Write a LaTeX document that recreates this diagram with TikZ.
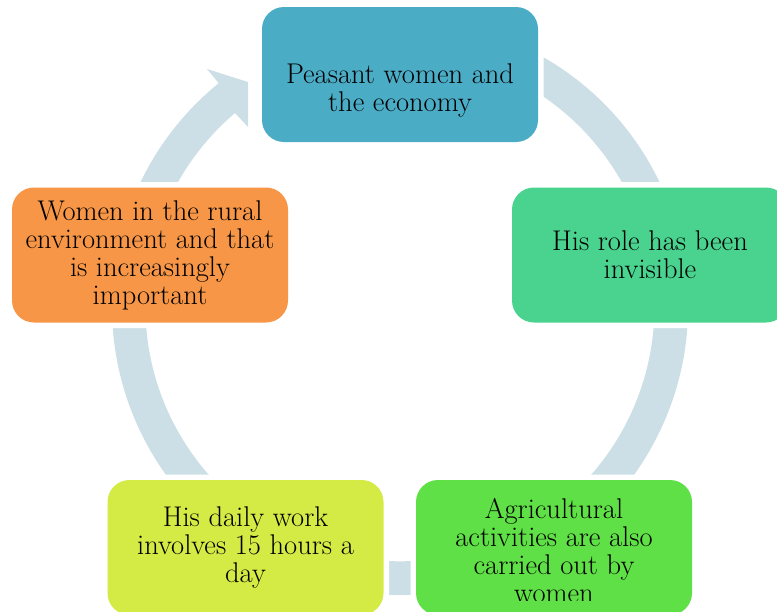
\documentclass[tikz,border=0pt]{standalone}
\usepackage{fontspec}
\definecolor{ringc}{HTML}{CDDFE6}
\definecolor{cblue}{HTML}{4BACC6}
\definecolor{cteal}{HTML}{4AD28F}
\definecolor{corange}{HTML}{F79646}
\definecolor{cyellow}{HTML}{D4EA45}
\definecolor{cgreen}{HTML}{5FE046}
\newcommand{\boxfont}{\fontsize{28.5pt}{28pt}\selectfont}
\tikzset{
  cyclebox/.style={rectangle, rounded corners=22pt, minimum width=276pt, minimum height=135pt,
    inner sep=0pt, align=center, font=\boxfont, text=black,
    preaction={draw=white, line width=11pt}},
  boxtext/.style={inner sep=0pt, align=center, font=\boxfont, text=black}
}
\begin{document}
\begin{tikzpicture}[x=1pt,y=-1pt]
\useasboundingbox (0,0) rectangle (777,611);
\clip (0,0) rectangle (777,611);
% ring with arrowhead
\begin{scope}[shift={(400,307)}]
\fill[ringc] (-62:288) arc[start angle=-62, end angle=231, radius=288]
  -- (-193,-238) -- (-152,-225) -- (-152,-180) -- (-165,-194)
  arc[start angle=229.6, end angle=-62, radius=254.5] -- cycle;
\end{scope}
% boxes
\node[cyclebox, fill=cblue] (top) at (400,74.5) {};
\node[boxtext] (toptext) at (400,90) {Peasant women and\\the economy};
\node[cyclebox, fill=cteal] (right) at (650,255) {His role has been\\invisible};
\node[cyclebox, fill=corange] (left) at (150,255) {Women in the rural\\environment and that\\is increasingly\\important};
\node[cyclebox, fill=cyellow] (botleft) at (245.5,547.5) {His daily work\\involves 15 hours a\\day};
\node[cyclebox, fill=cgreen] (botright) at (554,547.5) {};
\begin{scope}
\clip (416,480) rectangle (692,600.5);
\node[boxtext] (brtext) at (554,551) {Agricultural\\activities are also\\carried out by\\women};
\end{scope}
\end{tikzpicture}
\end{document}
